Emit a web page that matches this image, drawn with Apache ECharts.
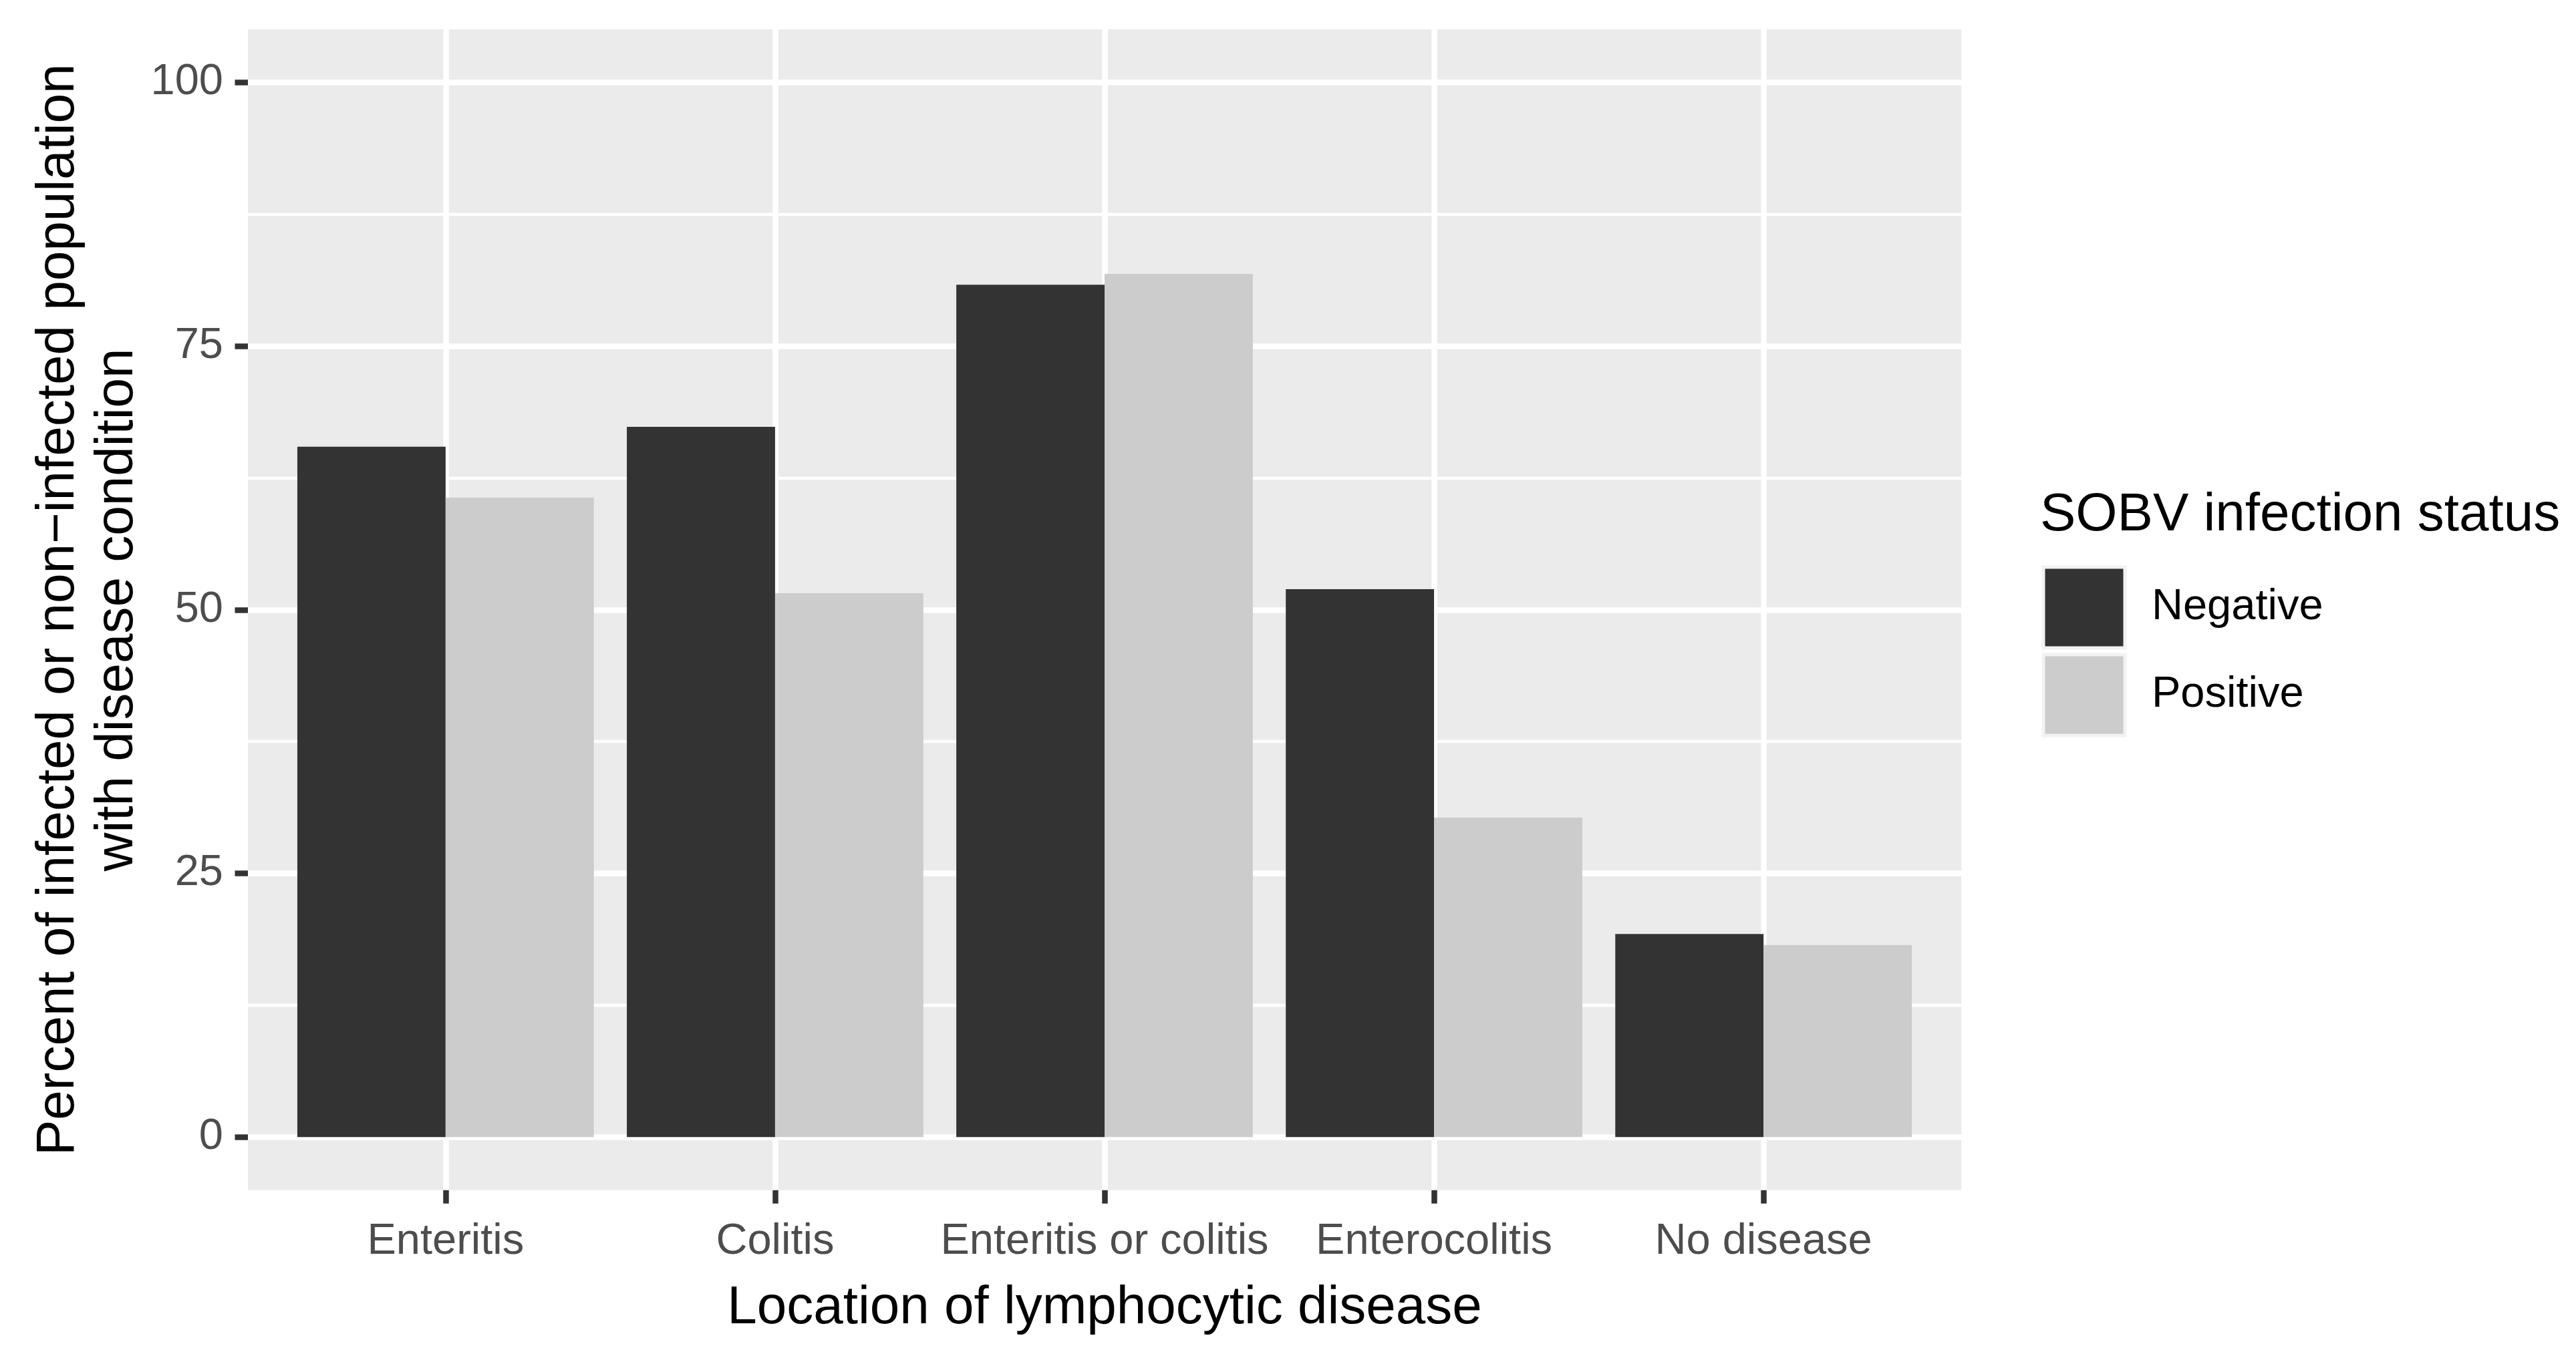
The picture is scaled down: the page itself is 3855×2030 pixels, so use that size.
<!DOCTYPE html>
<html>
<head>
<meta charset="utf-8">
<script src="https://cdn.jsdelivr.net/npm/echarts@6/dist/echarts.min.js"></script>
<style>
html, body { margin: 0; padding: 0; background: #ffffff; }
#chart { width: 3855px; height: 2030px; }
</style>
</head>
<body>
<div id="chart"></div>
<script>
const categories = ['Enteritis', 'Colitis', 'Enteritis or colitis', 'Enterocolitis', 'No disease'];
const seriesNames = ['Negative', 'Positive'];
const negative = [65.45, 67.34, 80.82, 51.95, 19.26];
const positive = [60.63, 51.57, 81.84, 30.29, 18.21];
const yMin = 0, yMax = 100, yInterval = 25;
const colors = ['#333333', '#CCCCCC'];
const yTitle = 'Percent of infected or non\u2212infected population\nwith disease condition';
const xTitle = 'Location of lymphocytic disease';
const legendTitle = 'SOBV infection status';

const FONT = '"Liberation Sans", Arial, Helvetica, sans-serif';
const W = 3855, H = 2030;
const panel = { left: 371, right: 2935, top: 44, bottom: 1781.7 };
const y0px = 1702.3, y100px = 123.3;
const band = (panel.right - panel.left) / (categories.length + 0.2);

const chart = echarts.init(document.getElementById('chart'), null, { renderer: 'canvas' });

const gridA = { left: panel.left, right: W - panel.right, top: panel.top, bottom: H - panel.bottom,
  show: true, backgroundColor: '#EBEBEB', borderWidth: 0, z: 0 };
const gridB = { left: panel.left, right: W - panel.right, top: y100px, bottom: H - y0px, z: 0 };
const gridC = { left: panel.left + 0.1 * band, right: W - (panel.right - 0.1 * band), top: y100px, bottom: H - y0px, z: 0 };
const gridD = { left: panel.left + 0.6 * band, right: W - (panel.right - 0.6 * band), top: panel.top, bottom: H - panel.bottom, z: 0 };

const option = {
  backgroundColor: '#ffffff',
  animation: false,
  textStyle: { fontFamily: FONT },
  title: {
    text: legendTitle,
    left: 3053, top: 732, padding: 0,
    textStyle: { fontFamily: FONT, fontSize: 80, fontWeight: 'normal', color: '#000000', lineHeight: 80 }
  },
  graphic: [{
    type: 'text',
    x: 132, y: (panel.top + panel.bottom) / 2,
    rotation: Math.PI / 2,
    z: 5,
    style: {
      text: yTitle,
      fontFamily: FONT, fontSize: 80, lineHeight: 88,
      fill: '#000000',
      align: 'center', verticalAlign: 'middle',
      textAlign: 'center', textVerticalAlign: 'middle'
    }
  }],
  legend: {
    data: seriesNames,
    orient: 'vertical',
    left: 3055.5, top: 846.5, padding: 0,
    itemWidth: 122, itemHeight: 121, itemGap: 5,
    icon: 'rect',
    selectedMode: false,
    itemStyle: { borderColor: '#F2F2F2', borderWidth: 5 },
    textStyle: { fontFamily: FONT, fontSize: 65, color: '#000000', padding: [0, 0, 0, 35] }
  },
  grid: [gridA, gridB, gridC, gridD],
  xAxis: [
    { gridIndex: 0, type: 'value', min: 0, max: 1, show: false },
    { gridIndex: 1, type: 'value', min: 0, max: 1, show: false },
    { gridIndex: 2, type: 'category', data: categories, show: false },
    {
      gridIndex: 3, type: 'category', data: categories, boundaryGap: false, z: 1,
      axisLine: { show: false },
      axisTick: { show: true, interval: 0, length: 20, lineStyle: { color: '#333333', width: 8.5 } },
      splitLine: { show: true, interval: 0, lineStyle: { color: '#FFFFFF', width: 8.5 } },
      axisLabel: { interval: 0, margin: 45, fontFamily: FONT, fontSize: 65, lineHeight: 65, color: '#4D4D4D' },
      name: xTitle,
      nameLocation: 'middle', nameGap: 137,
      nameTextStyle: { fontFamily: FONT, fontSize: 80, lineHeight: 80, color: '#000000' }
    }
  ],
  yAxis: [
    { gridIndex: 0, type: 'value', min: -5, max: 105, show: false },
    {
      gridIndex: 1, type: 'value', min: yMin, max: yMax, interval: yInterval, z: 1,
      axisLine: { show: false },
      axisTick: { show: true, length: 19.5, lineStyle: { color: '#333333', width: 8.5 } },
      minorTick: { show: false, splitNumber: 2 },
      splitLine: { show: true, lineStyle: { color: '#FFFFFF', width: 8.5 } },
      minorSplitLine: { show: true, lineStyle: { color: '#FFFFFF', width: 4.3 } },
      axisLabel: { margin: 37, fontFamily: FONT, fontSize: 65, lineHeight: 65, padding: [18, 0, 0, 0], color: '#4D4D4D' }
    },
    { gridIndex: 2, type: 'value', min: yMin, max: yMax, show: false },
    { gridIndex: 3, type: 'value', min: 0, max: 1, show: false }
  ],
  series: [
    {
      name: seriesNames[0], type: 'bar', xAxisIndex: 2, yAxisIndex: 2,
      data: negative, barGap: '0%', barCategoryGap: '10%',
      itemStyle: { color: colors[0] }, z: 2
    },
    {
      name: seriesNames[1], type: 'bar', xAxisIndex: 2, yAxisIndex: 2,
      data: positive, barGap: '0%', barCategoryGap: '10%',
      itemStyle: { color: colors[1] }, z: 2
    }
  ]
};
chart.setOption(option);
</script>
</body>
</html>
